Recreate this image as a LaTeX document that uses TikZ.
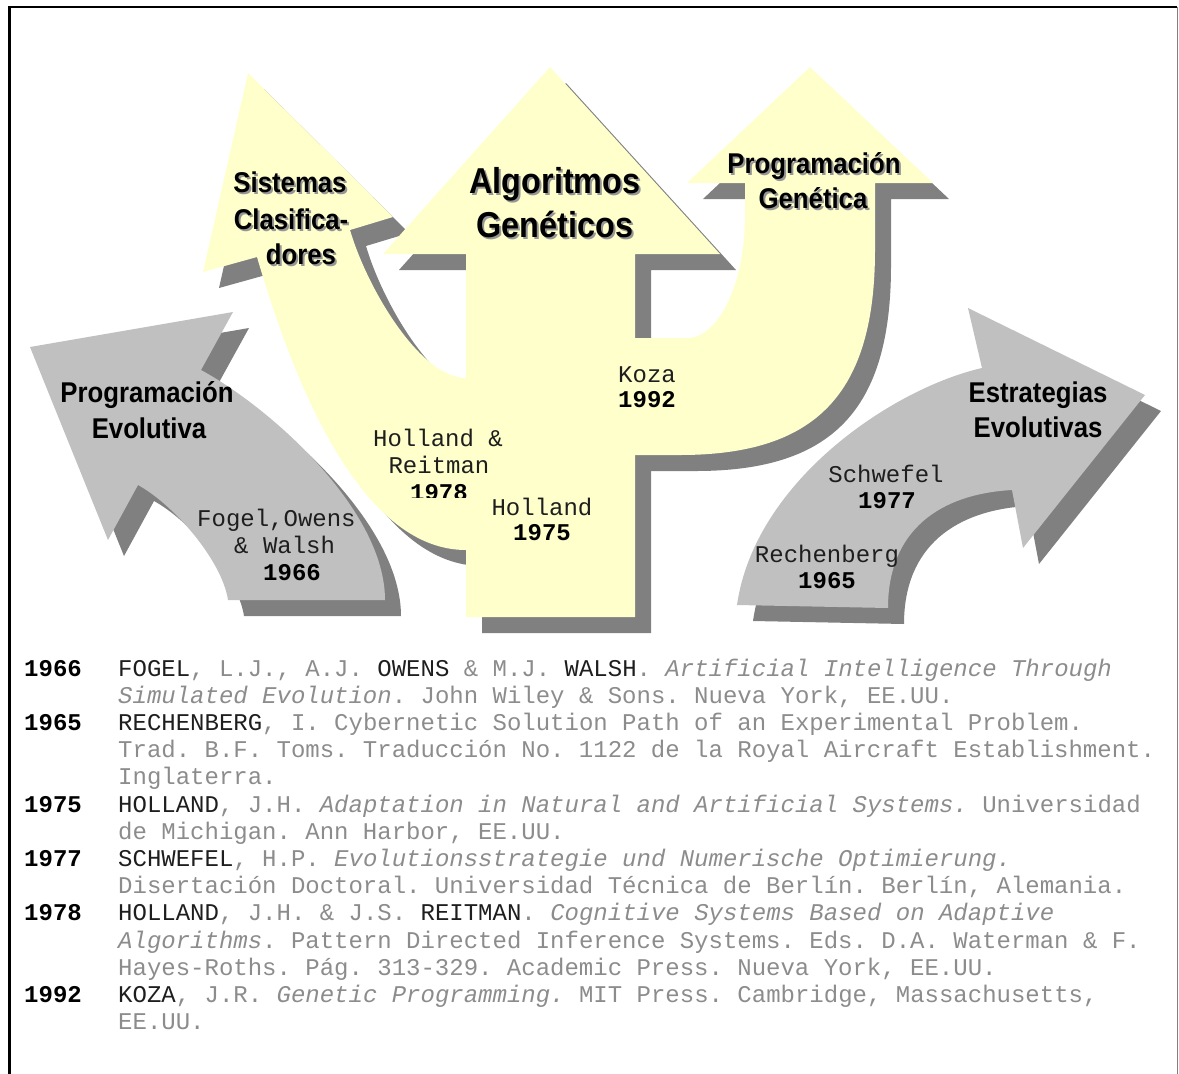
\documentclass[tikz,border=0pt]{standalone}
\usepackage{fontspec}
\setmonofont{Liberation Mono}
\newfontfamily\headfont[FakeStretch=0.9]{Liberation Sans}

\definecolor{pale}{RGB}{255,255,204}
\definecolor{silver}{RGB}{192,192,192}
\definecolor{dropgray}{RGB}{128,128,128}
\definecolor{titleshade}{RGB}{150,150,150}
\definecolor{faint}{RGB}{140,140,140}
\definecolor{ink}{RGB}{30,30,30}

% outlines of the five arrows (y grows downwards)
\newcommand\shapeGA{(550,67) -- (720,254) -- (635,254) -- (635,617) -- (466,617) -- (466,254) -- (383,254) -- cycle}
\newcommand\shapePG{(810,67) -- (933,183) -- (875,183) -- (875,250) .. controls (875,394) and (816,455) .. (680,455) -- (620,455) -- (620,338) -- (687,338) .. controls (719,338) and (745,283) .. (745,215) -- (745,183) -- (687,183) -- cycle}
\newcommand\shapeSC{(248,73) -- (393,217) -- (350,230) .. controls (367,288) and (420,378) .. (466,378) -- (480,378) -- (480,550) -- (466,550) .. controls (366,550) and (299,401) .. (257,257) -- (203,272) -- cycle}
\newcommand\shapePE{(30,347) -- (233,312) -- (201,370) .. controls (271,408) and (385,510) .. (385,600) -- (228,600) .. controls (222,560) and (173,504) .. (138,485) -- (108,540) -- cycle}
\newcommand\shapeEE{(968,308) -- (1145,395) -- (1023,548) -- (1012,490) .. controls (940,494) and (888,530) .. (888,608) -- (737,605) .. controls (755,480) and (894,388) .. (982,368) -- cycle}

\newcommand\nm[1]{\textcolor{ink}{#1}}
% title line with a soft drop shadow
\newcommand\headline[5]{%
  \node[#2, text=titleshade] (#1s) at (#3+2,#4+2) {#5};
  \node[#2] (#1) at (#3,#4) {#5};}

\tikzset{
  title/.style={font=\headfont\bfseries\fontsize{28.6}{34}\selectfont, anchor=base, inner sep=0pt, text=black},
  bigtitle/.style={title, font=\headfont\bfseries\fontsize{36}{42}\selectfont},
  lbl/.style={font=\ttfamily\fontsize{24}{26}\selectfont, text=ink, anchor=base, inner sep=0pt},
  yr/.style={lbl, font=\ttfamily\bfseries\fontsize{24}{26}\selectfont, text=black},
  bib/.style={font=\ttfamily\fontsize{24}{27}\selectfont\frenchspacing, text=faint, anchor=base west, inner sep=0pt},
  year/.style={font=\ttfamily\bfseries\fontsize{24}{27}\selectfont, text=black, anchor=base west, inner sep=0pt},
}

\begin{document}
\begin{tikzpicture}[x=1pt,y=-1pt]
\useasboundingbox (0,0) rectangle (1179,1074);

% frame
\draw[line width=2.5pt] (9.5,1080) -- (9.5,7) -- (1177,7);
\draw[dropgray, line width=1pt] (1177,7) -- (1177,1080);

% drop shadows
\foreach \s in {\shapePE,\shapeEE,\shapeSC,\shapeGA,\shapePG}
  \fill[dropgray, shift={(16,16)}] \s;

% arrows
\fill[silver] \shapePE;
\fill[silver] \shapeEE;
\fill[pale] \shapeSC;
\fill[pale] \shapeGA;
\fill[pale] \shapePG;

% titles
\headline{ga1}{bigtitle}{555}{193}{Algoritmos}
\headline{ga2}{bigtitle}{555}{237}{Genéticos}
\headline{sc1}{title}{290}{192}{Sistemas}
\headline{sc2}{title}{291}{229}{Clasifica-}
\headline{sc3}{title}{301}{264}{dores}
\headline{pg1}{title}{814}{173}{Programación}
\headline{pg2}{title}{813}{208}{Genética}
\node[title] (pe1) at (147,402) {Programación};
\node[title] (pe2) at (149,438) {Evolutiva};
\node[title] (ee1) at (1038,402) {Estrategias};
\node[title] (ee2) at (1038,437) {Evolutivas};

% authors on the arrows
\node[lbl] (koza) at (647,382) {Koza};
\node[yr] (y1992) at (647,407) {1992};
\node[lbl] (hr1) at (438,446) {Holland \&};
\node[lbl] (hr2) at (439,473) {Reitman};
\begin{scope}
  \clip (380,478) rectangle (500,497);
  \node[yr] (y1978) at (439,500) {1978};
\end{scope}
\node[lbl] (hol) at (542,515) {Holland};
\node[yr] (y1975) at (542,540) {1975};
\node[lbl, anchor=base west] (fow1) at (197,526) {Fogel,Owens};
\node[lbl, anchor=base west] (fow2) at (234,553) {\& Walsh};
\node[yr, anchor=base west] (y1966) at (263,580) {1966};
\node[lbl] (schw) at (886,482) {Schwefel};
\node[yr] (y1977) at (887,508) {1977};
\node[lbl] (rech) at (827,562) {Rechenberg};
\node[yr] (y1965) at (827,588) {1965};

% references
\node[year] (n1966) at (24,676) {1966};
\node[year] (n1965) at (24,730.4) {1965};
\node[year] (n1975) at (24,812) {1975};
\node[year] (n1977) at (24,866.4) {1977};
\node[year] (n1978) at (24,920.8) {1978};
\node[year] (n1992) at (24,1002.4) {1992};

\node[bib] (b0) at (118,676) {\nm{FOGEL}, L.J., A.J. \nm{OWENS} \& M.J. \nm{WALSH}. \textit{Artificial Intelligence Through}};
\node[bib] (b1) at (118,703.2) {\textit{Simulated Evolution}. John Wiley \& Sons. Nueva York, EE.UU.};
\node[bib] (b2) at (118,730.4) {\nm{RECHENBERG}, I. Cybernetic Solution Path of an Experimental Problem.};
\node[bib] (b3) at (118,757.6) {Trad. B.F. Toms. Traducción No. 1122 de la Royal Aircraft Establishment.};
\node[bib] (b4) at (118,784.8) {Inglaterra.};
\node[bib] (b5) at (118,812) {\nm{HOLLAND}, J.H. \textit{Adaptation in Natural and Artificial Systems.} Universidad};
\node[bib] (b6) at (118,839.2) {de Michigan. Ann Harbor, EE.UU.};
\node[bib] (b7) at (118,866.4) {\nm{SCHWEFEL}, H.P. \textit{Evolutionsstrategie und Numerische Optimierung.}};
\node[bib] (b8) at (118,893.6) {Disertación Doctoral. Universidad Técnica de Berlín. Berlín, Alemania.};
\node[bib] (b9) at (118,920.8) {\nm{HOLLAND}, J.H. \& J.S. \nm{REITMAN}. \textit{Cognitive Systems Based on Adaptive}};
\node[bib] (b10) at (118,948) {\textit{Algorithms}. Pattern Directed Inference Systems. Eds. D.A. Waterman \& F.};
\node[bib] (b11) at (118,975.2) {Hayes-Roths. Pág. 313-329. Academic Press. Nueva York, EE.UU.};
\node[bib] (b12) at (118,1002.4) {\nm{KOZA}, J.R. \textit{Genetic Programming.} MIT Press. Cambridge, Massachusetts,};
\node[bib] (b13) at (118,1029.6) {EE.UU.};
\end{tikzpicture}
\end{document}
